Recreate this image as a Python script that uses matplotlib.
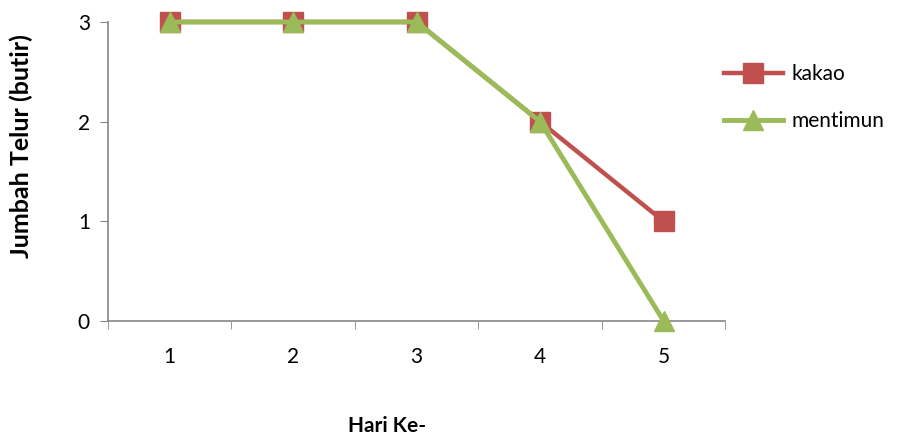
import matplotlib
matplotlib.use("Agg")
import matplotlib.pyplot as plt

hari = [1, 2, 3, 4, 5]
kakao = [3, 3, 3, 2, 1]
mentimun = [3, 3, 3, 2, 0]

plt.rcParams["font.family"] = ["Lato", "DejaVu Sans"]

fig = plt.figure(figsize=(9.02, 4.37), dpi=100)
ax = fig.add_axes([0.1197, 0.2654, 0.6845, 0.6843])

ax.plot(hari, kakao, color="#C0504D", lw=3.2, marker="s", ms=14,
        label="kakao", clip_on=False, zorder=3)
ax.plot(hari, mentimun, color="#9BBB59", lw=3.5, marker="^", ms=15,
        label="mentimun", clip_on=False, zorder=4)

ax.set_xlim(0.5, 5.5)
ax.set_ylim(0, 3)
ax.set_yticks([0, 1, 2, 3])
ax.set_xticks(hari)
ax.set_xticks([0.5, 1.5, 2.5, 3.5, 4.5, 5.5], minor=True)
ax.tick_params(axis="x", which="major", length=0, pad=19, labelsize=15)
ax.tick_params(axis="x", which="minor", length=6, color="#868686", direction="out")
ax.tick_params(axis="y", length=6, color="#868686", labelsize=15, pad=7)

for s in ["top", "right"]:
    ax.spines[s].set_visible(False)
for s in ["left", "bottom"]:
    ax.spines[s].set_color("#868686")
    ax.spines[s].set_linewidth(1.2)

fig.text(0.429, 0.025, "Hari Ke-", ha="center", va="center",
         fontsize=15, fontweight="bold")
fig.text(0.024, 0.666, "Jumbah Telur (butir)", ha="center", va="center",
         rotation=90, fontsize=18, fontweight="bold")

ax.legend(loc="upper left", bbox_to_anchor=(0.997, 0.86), frameon=False,
          fontsize=15, handlelength=2.84, labelspacing=1.3, handletextpad=0.4,
          borderpad=0, borderaxespad=0, markerscale=1.0)

fig.savefig("out.png", dpi=100)
